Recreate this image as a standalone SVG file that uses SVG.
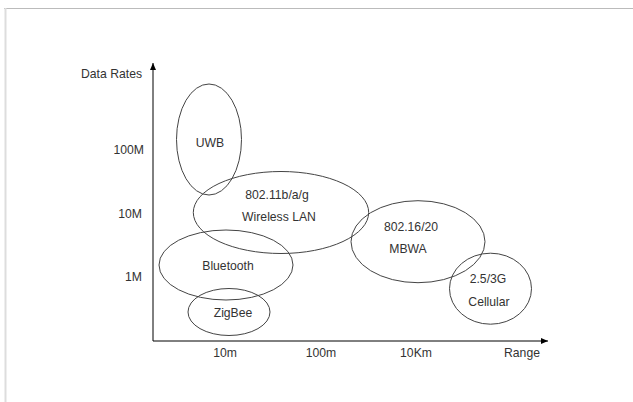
<svg xmlns="http://www.w3.org/2000/svg" width="633" height="402" viewBox="0 0 633 402">
<defs>
<marker id="arr" markerWidth="8" markerHeight="8" refX="7" refY="3" orient="auto" markerUnits="userSpaceOnUse">
<path d="M0,0 L7,3 L0,6 Z" fill="#000"/>
</marker>
<style>
text{font-family:"Liberation Sans",Arial,sans-serif;font-size:12.2px;fill:#333;dominant-baseline:central}
.e{fill:none;stroke:#444;stroke-width:1}
.ax{stroke:#000;stroke-width:1;fill:none}
</style>
</defs>
<rect width="633" height="402" fill="#fff"/>
<line x1="4" y1="8.5" x2="633" y2="8.5" stroke="#bbb" stroke-width="1"/>
<line x1="5.5" y1="8" x2="5.5" y2="402" stroke="#ddd" stroke-width="2"/>
<g id="axes">
<line class="ax" x1="153" y1="341" x2="153" y2="63" marker-end="url(#arr)"/>
<line class="ax" x1="153" y1="341" x2="548" y2="341" marker-end="url(#arr)"/>
<text x="142" y="74" text-anchor="end">Data Rates</text>
<text x="144" y="150" text-anchor="end">100M</text>
<text x="142" y="214" text-anchor="end">10M</text>
<text x="142" y="277" text-anchor="end">1M</text>
<text x="225" y="353" text-anchor="middle">10m</text>
<text x="321" y="353" text-anchor="middle">100m</text>
<text x="416" y="353" text-anchor="middle">10Km</text>
<text x="522" y="353" text-anchor="middle">Range</text>
</g>
<g id="uwb">
<ellipse class="e" cx="209" cy="139.5" rx="32.5" ry="55.5"/>
<text x="210" y="143" text-anchor="middle">UWB</text>
</g>
<g id="wlan">
<ellipse class="e" cx="281" cy="212.5" rx="87.7" ry="41"/>
<text x="277" y="195" text-anchor="middle">802.11b/a/g</text>
<text x="279" y="217" text-anchor="middle">Wireless LAN</text>
</g>
<g id="bluetooth">
<ellipse class="e" cx="226" cy="265" rx="67" ry="35"/>
<text x="228" y="266" text-anchor="middle">Bluetooth</text>
</g>
<g id="zigbee">
<ellipse class="e" cx="229" cy="312" rx="41" ry="23.5"/>
<text x="233" y="313" text-anchor="middle">ZigBee</text>
</g>
<g id="mbwa">
<ellipse class="e" cx="418" cy="241.7" rx="67" ry="41"/>
<text x="411" y="227" text-anchor="middle">802.16/20</text>
<text x="408" y="249" text-anchor="middle">MBWA</text>
</g>
<g id="cellular">
<ellipse class="e" cx="490.5" cy="288.7" rx="41" ry="35.5"/>
<text x="488" y="279" text-anchor="middle">2.5/3G</text>
<text x="489" y="302" text-anchor="middle">Cellular</text>
</g>
</svg>
